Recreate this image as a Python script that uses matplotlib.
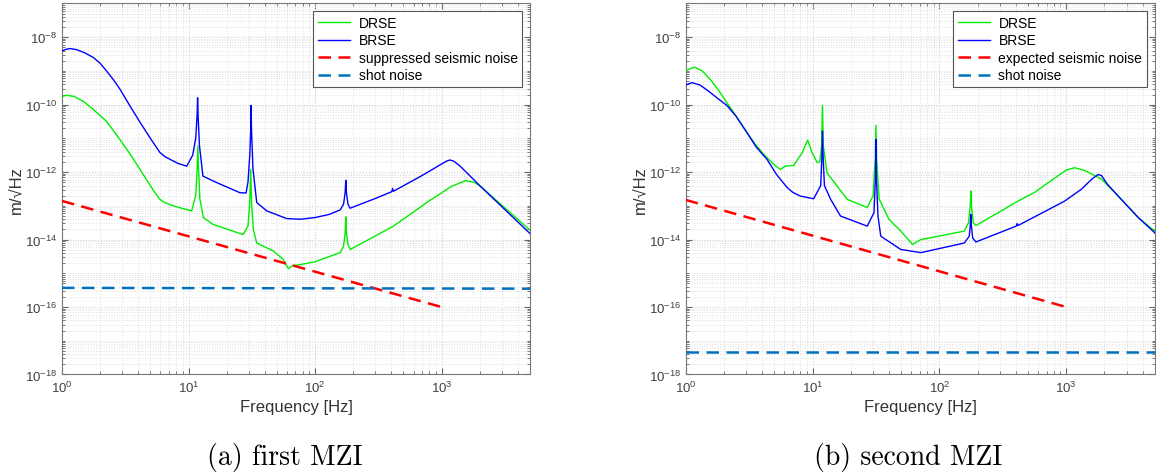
import matplotlib
matplotlib.use("Agg")
import matplotlib.pyplot as plt
from matplotlib.ticker import LogLocator, NullFormatter

plt.rcParams['font.family'] = ['Liberation Sans', 'DejaVu Sans']

# ---- first MZI ----
f_brse_a = [1.0, 1.08, 1.16, 1.3, 1.5, 1.77, 2.0, 2.25, 2.55, 2.87, 3.4, 4.14, 5.0, 5.95, 6.5, 7.14,
            8.3, 9.68, 10.8, 11.4, 11.7, 11.8, 11.9, 12.2, 13.0, 16.7, 25.5, 28.5, 29.5, 30.5, 31.0,
            31.2, 31.5, 32.3, 34.6, 41.5, 59.7, 76, 100, 130, 158, 168, 173, 175, 177, 182, 189,
            300, 404, 410, 416, 700, 1000, 1099, 1167, 1250, 1400, 2014, 5000]
brse_a = [3.9e-9, 4.4e-9, 4.6e-9, 4.3e-9, 3.5e-9, 2.5e-9, 1.7e-9, 1.0e-9, 5.5e-10, 2.9e-10,
          1.0e-10, 3.0e-11, 1.0e-11, 3.8e-12, 2.9e-12, 2.4e-12, 1.8e-12, 1.5e-12, 3.2e-12, 1.0e-11,
          5.0e-11, 1.6e-10, 5.0e-11, 6.3e-12, 7.6e-13, 4.9e-13, 2.45e-13, 2.4e-13, 5.0e-13, 3.2e-12,
          1.6e-11, 9.5e-11, 1.6e-11, 1.26e-12, 1.26e-13, 7.1e-14, 4.2e-14, 4.0e-14, 4.5e-14, 5.6e-14,
          7.6e-14, 1.12e-13, 2.5e-13, 5.75e-13, 2.5e-13, 1.12e-13, 8.5e-14, 1.66e-13, 2.63e-13,
          3.3e-13, 2.7e-13, 7.9e-13, 1.74e-12, 2.14e-12, 2.29e-12, 2.1e-12, 1.51e-12, 3.9e-13,
          1.51e-14]

f_drse_a = [1.0, 1.09, 1.25, 1.5, 1.77, 2.25, 2.87, 3.5, 4.14, 4.8, 5.43, 5.95, 6.5, 7.6, 9.0, 10.6,
            11.4, 11.7, 11.85, 12.0, 12.3, 13.1, 15.7, 27.0, 29.5, 30.5, 31.0, 31.5, 32.5, 34.6,
            46.8, 56, 61.5, 67, 76, 100, 158, 168, 173, 175, 177, 182, 190, 416, 800, 1200, 1550,
            1800, 2014, 5000]
drse_a = [1.74e-10, 1.9e-10, 1.75e-10, 1.2e-10, 7.2e-11, 3.2e-11, 9.3e-12, 3.2e-12, 1.2e-12,
          5.0e-13, 2.45e-13, 1.55e-13, 1.25e-13, 1.0e-13, 8.3e-14, 7.1e-14, 2.0e-13, 1.26e-12,
          5.9e-12, 1.26e-12, 1.6e-13, 4.5e-14, 2.8e-14, 1.41e-14, 2.5e-14, 1.26e-13, 1.2e-12,
          1.26e-13, 2.0e-14, 7.9e-15, 4.6e-15, 2.6e-15, 1.38e-15, 1.7e-15, 1.8e-15, 2.2e-15,
          4.1e-15, 6.3e-15, 1.6e-14, 4.7e-14, 1.6e-14, 7.1e-15, 5.1e-15, 2.5e-14, 1.41e-13,
          3.8e-13, 5.6e-13, 5.0e-13, 3.9e-13, 1.9e-14]

f_seis_a = [1, 1000]
seis_a = [1.4e-13, 1.0e-16]
f_shot_a = [1, 5000]
shot_a = [3.7e-16, 3.5e-16]

# ---- second MZI ----
f_drse_b = [1.0, 1.18, 1.35, 1.56, 1.8, 2.11, 2.5, 3.04, 3.5, 4.11, 4.93, 5.57, 6.1, 7.1, 8.3, 9.16,
            9.9, 10.9, 11.4, 11.8, 11.97, 12.15, 13.0, 18.8, 27, 30, 31.2, 31.6, 32.0, 33.5, 40,
            49.6, 61.4, 71.4, 157, 170, 175, 177, 179, 185, 194, 416, 562, 1000, 1164, 1400, 1897,
            2570, 3700, 5000]
drse_b = [1.05e-9, 1.29e-9, 1.0e-9, 5.6e-10, 2.8e-10, 1.15e-10, 4.5e-11, 1.48e-11, 7.0e-12,
          3.4e-12, 1.7e-12, 1.2e-12, 1.51e-12, 1.58e-12, 3.8e-12, 8.9e-12, 3.8e-12, 1.9e-12,
          2.0e-12, 6.3e-12, 9.5e-11, 6.3e-12, 9.5e-13, 1.55e-13, 8.9e-14, 2.0e-13, 2.5e-12,
          2.45e-11, 2.5e-12, 1.6e-13, 4.0e-14, 1.78e-14, 7.2e-15, 1.0e-14, 1.78e-14, 3.2e-14,
          1.0e-13, 2.75e-13, 1.0e-13, 3.2e-14, 2.6e-14, 1.38e-13, 2.5e-13, 1.15e-12, 1.35e-12,
          1.12e-12, 6.2e-13, 1.95e-13, 4.5e-14, 1.78e-14]

f_brse_b = [1.0, 1.12, 1.3, 1.56, 1.8, 2.11, 2.5, 3.04, 3.6, 4.37, 5.2, 6.3, 7.0, 8.0, 10.2, 11.6,
            11.85, 11.97, 12.1, 12.4, 13.9, 16.6, 27, 30.5, 31.3, 31.6, 31.9, 32.8, 34.5, 49.6,
            71.4, 157, 172, 175, 177, 179, 183, 194, 403, 410, 416, 971, 1316, 1600, 1784, 1900,
            2100, 2570, 3700, 5000]
brse_b = [3.8e-10, 4.5e-10, 3.8e-10, 2.3e-10, 1.5e-10, 9.5e-11, 4.5e-11, 1.48e-11, 5.5e-12,
          2.4e-12, 8.5e-13, 3.5e-13, 2.5e-13, 1.95e-13, 1.62e-13, 4.0e-13, 3.2e-12, 1.66e-11,
          3.2e-12, 4.0e-13, 1.55e-13, 5.0e-14, 2.5e-14, 6.3e-14, 6.3e-13, 9.3e-12, 6.3e-13,
          5.0e-14, 1.26e-14, 5.1e-15, 4.1e-15, 7.9e-15, 1.26e-14, 2.5e-14, 5.6e-14, 2.5e-14,
          1.12e-14, 8.5e-15, 2.5e-14, 3.0e-14, 2.6e-14, 1.38e-13, 3.1e-13, 6.3e-13, 8.5e-13,
          7.9e-13, 4.5e-13, 1.95e-13, 4.5e-14, 1.58e-14]

f_seis_b = [1, 1000]
seis_b = [1.5e-13, 1.0e-16]
f_shot_b = [1, 5000]
shot_b = [4.8e-18, 4.8e-18]

captions = ['(a) first MZI', '(b) second MZI']
seis_labels = ['suppressed seismic noise', 'expected seismic noise']


def style_axes(ax):
    ax.set_xscale('log')
    ax.set_yscale('log')
    ax.set_xlim(1, 5000)
    ax.set_ylim(1e-18, 1e-7)
    ax.yaxis.set_minor_locator(LogLocator(base=10, subs=range(1, 10), numticks=100))
    ax.yaxis.set_minor_formatter(NullFormatter())
    ax.set_yticks([1e-18, 1e-16, 1e-14, 1e-12, 1e-10, 1e-8])
    ax.xaxis.set_minor_locator(LogLocator(base=10, subs=range(2, 10), numticks=100))
    ax.xaxis.set_minor_formatter(NullFormatter())
    ax.grid(True, which='major', color='#d0d0d0', linestyle=':', linewidth=0.8)
    ax.grid(True, which='minor', color='#e0e0e0', linestyle=':', linewidth=0.7)
    ax.tick_params(which='both', direction='in', top=True, right=True, colors='#666666',
                   labelcolor='#404040', labelsize=9.5)
    ax.tick_params(which='major', length=4)
    ax.tick_params(which='minor', length=2)
    for s in ax.spines.values():
        s.set_color('#777777')
        s.set_linewidth(0.8)
    ax.set_xlabel('Frequency [Hz]', fontsize=12, color='#333333', labelpad=3)
    ax.set_ylabel('m/\u221aHz', fontsize=12, color='#333333', labelpad=1)


fig = plt.figure(figsize=(11.56, 4.77), dpi=100)
ax1 = fig.add_axes([0.0536, 0.2128, 0.4049, 0.7778])
ax2 = fig.add_axes([0.5932, 0.2128, 0.4058, 0.7778])

panels = [
    (ax1, f_drse_a, drse_a, f_brse_a, brse_a, f_seis_a, seis_a, f_shot_a, shot_a),
    (ax2, f_drse_b, drse_b, f_brse_b, brse_b, f_seis_b, seis_b, f_shot_b, shot_b),
]

for i, (ax, fd, d, fb, b, fs, s, fsh, sh) in enumerate(panels):
    ax.plot(fd, d, color='#00ee00', lw=1.0, label='DRSE', zorder=3)
    ax.plot(fb, b, color='#0000ff', lw=1.0, label='BRSE', zorder=3)
    ax.plot(fs, s, color='#ff0000', lw=1.8, ls=(0, (5, 3)), label=seis_labels[i], zorder=3)
    ax.plot(fsh, sh, color='#0072BD', lw=1.8, ls=(0, (5, 3)), label='shot noise', zorder=3)
    style_axes(ax)
    leg = ax.legend(loc='upper right', fontsize=10, handlelength=2.3, borderaxespad=0.55,
                    fancybox=False, framealpha=1, labelspacing=0.25, borderpad=0.35,
                    handletextpad=0.6)
    leg.get_frame().set_edgecolor('#555555')
    leg.get_frame().set_linewidth(0.8)

fig.text(0.2467, 0.04, captions[0], fontsize=20, family='cmr10', ha='center', va='center')
fig.text(0.786, 0.04, captions[1], fontsize=20, family='cmr10', ha='center', va='center')

plt.savefig('out.png', dpi=100)
